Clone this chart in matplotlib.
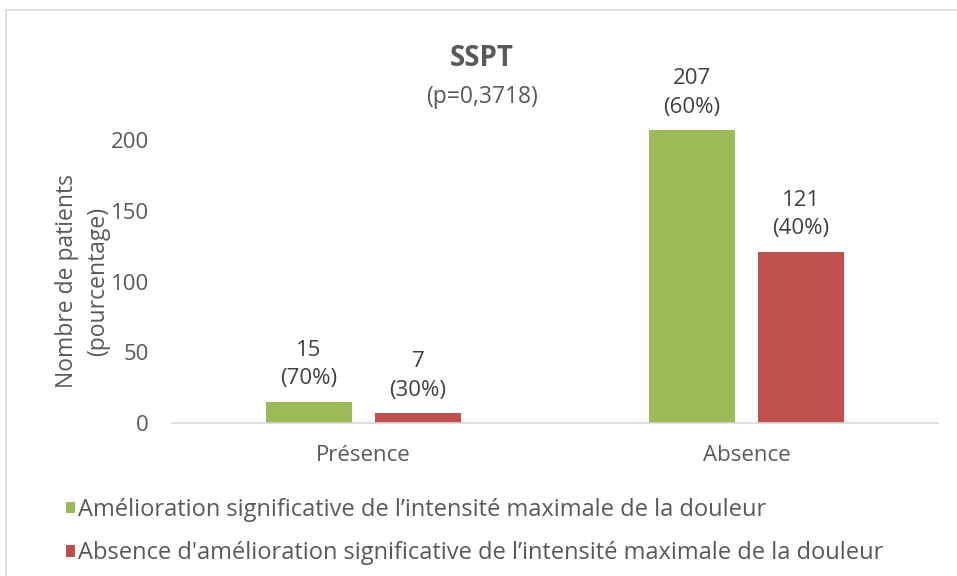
import numpy as np
import matplotlib.pyplot as plt
from matplotlib.patches import Rectangle

plt.rcParams['font.family'] = ['Open Sans', 'DejaVu Sans']

categories = ['Présence', 'Absence']
amelioration = [15, 207]
absence_amelioration = [7, 121]
pct_amelioration = ['70%', '60%']
pct_absence = ['30%', '40%']
series_names = ['Amélioration significative de l’intensité maximale de la douleur',
                "Absence d'amélioration significative de l’intensité maximale de la douleur"]
yticks = [0, 50, 100, 150, 200]

green = '#9BBB59'
red = '#C0504D'
txt = '#595959'

W, H = 957, 576
fig = plt.figure(figsize=(W / 100, H / 100), dpi=100)
# axes box in pixels: left 172, right 938, zero line at 423, 200 at 140
left, right, y0, y200 = 172, 938, 423, 140
ymax = 230
ppu = (y0 - y200) / 200
top = y0 - ymax * ppu
ax = fig.add_axes([left / W, 1 - y0 / H, (right - left) / W, (y0 - top) / H])

x = np.arange(len(categories))
bw = 0.2245
off = 0.142
b1 = ax.bar(x - off, amelioration, bw, color=green, label=series_names[0])
b2 = ax.bar(x + off, absence_amelioration, bw, color=red, label=series_names[1])

for bars, vals, pcts in [(b1, amelioration, pct_amelioration), (b2, absence_amelioration, pct_absence)]:
    for r, v, p in zip(bars, vals, pcts):
        ax.annotate(f'{v}\n({p})', (r.get_x() + r.get_width() / 2, v),
                    xytext=(0, 9), textcoords='offset points', ha='center', va='bottom',
                    fontsize=16, color='#404040', linespacing=1.45)

ax.set_xlim(-0.5, 1.5)
ax.set_ylim(0, ymax)
ax.set_yticks(yticks)
ax.set_xticks(x)
ax.set_xticklabels(categories)
for s in ['top', 'right', 'left']:
    ax.spines[s].set_visible(False)
ax.spines['bottom'].set_color('#D9D9D9')
ax.spines['bottom'].set_linewidth(1.2)
ax.tick_params(length=0, colors=txt, labelsize=16)
ax.tick_params(axis='y', pad=16.5)
ax.tick_params(axis='x', pad=16)
ax.set_ylabel('Nombre de patients\n(pourcentage)', fontsize=16.5, color=txt, linespacing=1.4)
# centre the axis title on the 0-200 span
ax.yaxis.set_label_coords((110 - left) / (right - left), (y0 - 281) / (y0 - top))

fig.text(482 / W, 1 - 59 / H, 'SSPT', ha='center', va='center', fontsize=20,
         fontweight='bold', color=txt)
fig.text(482 / W, 1 - 97 / H, '(p=0,3718)', ha='center', va='center', fontsize=16.5, color=txt)

fig.legend(handles=[b1, b2], loc='upper left', bbox_to_anchor=(66 / W, 1 - 498 / H),
           frameon=False, fontsize=17, labelcolor=txt, handlelength=0.36, handleheight=0.36,
           handletextpad=0.15, labelspacing=0.82, borderaxespad=0, borderpad=0)

fig.patches.append(Rectangle((6 / W, -0.1), 1, 1 - 10 / H + 0.1, transform=fig.transFigure,
                             fill=False, edgecolor='#D9D9D9', linewidth=1.2))

fig.savefig('out.png', dpi=100)
